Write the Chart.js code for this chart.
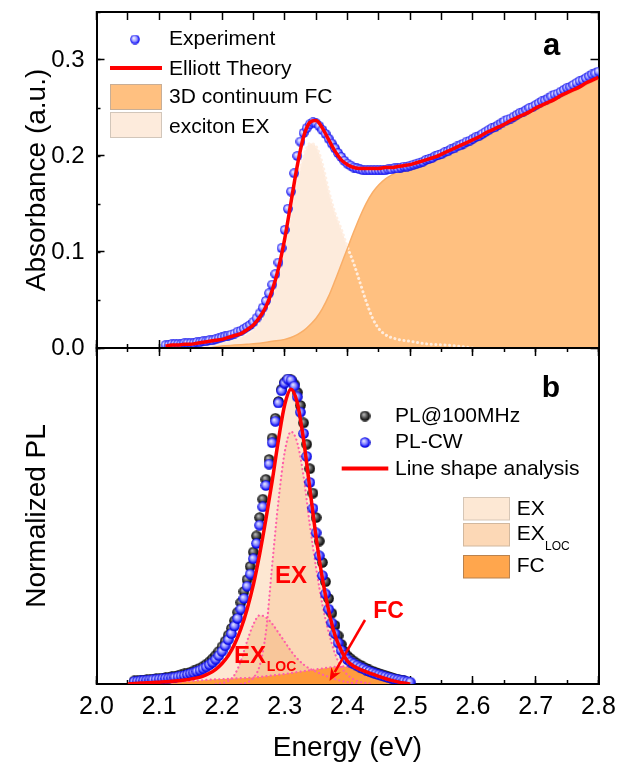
<!DOCTYPE html>
<html><head><meta charset="utf-8">
<script src="https://cdn.jsdelivr.net/npm/chart.js@4.4.1/dist/chart.umd.min.js"></script>
<style>
html,body{margin:0;padding:0;background:#fff;overflow:hidden;width:619px;height:762px;}
#wrap{position:relative;width:619px;height:762px;overflow:hidden;}
canvas{position:absolute;left:0;}
#cA{top:0;} #cB{top:340px;}
</style></head><body>
<div id="wrap"><canvas id="cA" width="619" height="360"></canvas><canvas id="cB" width="619" height="425"></canvas></div>
<script>
// ---------- Panel a: absorbance ----------
const E_abs = [2.110,2.115,2.120,2.125,2.130,2.135,2.140,2.145,2.150,2.155,
2.160,2.165,2.170,2.175,2.180,2.185,2.190,2.195,2.200,2.205,
2.210,2.215,2.220,2.225,2.230,2.235,2.240,2.245,2.250,2.255,
2.260,2.265,2.270,2.275,2.280,2.285,2.290,2.295,2.300,2.305,
2.310,2.315,2.320,2.325,2.330,2.335,2.340,2.345,2.350,2.355,
2.360,2.365,2.370,2.375,2.380,2.385,2.390,2.395,2.400,2.405,
2.410,2.415,2.420,2.425,2.430,2.435,2.440,2.445,2.450,2.455,
2.460,2.465,2.470,2.475,2.480,2.485,2.490,2.495,2.500,2.505,
2.510,2.515,2.520,2.525,2.530,2.535,2.540,2.545,2.550,2.555,
2.560,2.565,2.570,2.575,2.580,2.585,2.590,2.595,2.600,2.605,
2.610,2.615,2.620,2.625,2.630,2.635,2.640,2.645,2.650,2.655,
2.660,2.665,2.670,2.675,2.680,2.685,2.690,2.695,2.700,2.705,
2.710,2.715,2.720,2.725,2.730,2.735,2.740,2.745,2.750,2.755,
2.760,2.765,2.770,2.775,2.780,2.785,2.790,2.795,2.800];
const A_exp = [.003,.003,.004,.004,.004,.004,.005,.005,.005,.005,
.006,.006,.007,.007,.008,.008,.009,.010,.011,.012,
.013,.014,.015,.017,.018,.020,.022,.024,.027,.031,
.036,.042,.049,.057,.066,.077,.089,.104,.123,.145,
.163,.182,.200,.215,.224,.229,.233,.235,.234,.231,
.227,.223,.218,.213,.208,.203,.199,.195,.192,.190,
.188,.187,.186,.185,.185,.185,.185,.185,.185,.185,
.185,.186,.186,.187,.187,.188,.189,.189,.190,.191,
.192,.193,.194,.196,.197,.198,.200,.201,.202,.204,
.205,.207,.208,.210,.211,.213,.215,.216,.218,.220,
.221,.223,.225,.227,.229,.230,.232,.234,.236,.238,
.239,.241,.243,.245,.246,.248,.250,.251,.253,.255,
.257,.258,.260,.262,.264,.265,.267,.269,.271,.272,
.274,.276,.278,.279,.281,.283,.285,.286,.288];

const E_th = [2.11,2.12,2.13,2.14,2.15,2.16,2.17,2.18,2.19,2.20,
2.21,2.22,2.23,2.24,2.25,2.26,2.27,2.28,2.29,2.30,
2.31,2.32,2.33,2.34,2.35,2.36,2.37,2.38,2.39,2.40,
2.41,2.42,2.43,2.44,2.45,2.46,2.47,2.48,2.49,2.50,
2.51,2.52,2.53,2.54,2.55,2.56,2.57,2.58,2.59,2.60,
2.61,2.62,2.63,2.64,2.65,2.66,2.67,2.68,2.69,2.70,
2.71,2.72,2.73,2.74,2.75,2.76,2.77,2.78,2.79,2.80];
const A_th = [.002,.003,.003,.004,.004,.005,.006,.007,.008,.009,
.011,.013,.015,.019,.024,.032,.043,.060,.083,.114,
.152,.190,.220,.235,.237,.229,.217,.205,.196,.191,
.188,.187,.187,.187,.187,.188,.188,.189,.190,.191,
.193,.195,.197,.199,.202,.205,.208,.211,.214,.217,
.220,.224,.227,.230,.233,.237,.240,.243,.246,.250,
.253,.256,.259,.263,.266,.269,.272,.276,.279,.282];

const E_fc = [2.18,2.20,2.22,2.24,2.26,2.28,2.30,2.31,2.32,2.33,2.34,2.35,2.36,2.37,2.38,2.39,2.40,
2.41,2.42,2.43,2.44,2.45,2.46,2.47,2.48,2.49,2.50,2.52,2.54,2.56,2.58,2.60,2.62,2.64,2.66,2.68,2.70,2.72,2.74,2.76,2.78,2.80];
const A_fc = [0.000,0.002,0.003,0.004,0.005,0.007,0.009,0.011,0.014,0.018,0.024,0.031,0.041,0.054,0.070,0.087,0.104,
0.121,0.137,0.151,0.162,0.170,0.176,0.180,0.184,0.186,0.188,0.192,0.197,0.203,0.209,0.215,0.222,0.228,0.235,0.241,0.248,0.254,0.261,0.267,0.274,0.280];

const E_ex = [2.15,2.17,2.19,2.21,2.23,2.25,2.26,2.27,2.28,2.29,2.30,2.31,2.32,2.33,2.34,2.35,2.36,2.37,2.38,2.39,2.40,2.41,2.42,2.43,2.44,2.45,2.46,2.48,2.50,2.53,2.56,2.60];
const A_ex = [0.000,0.002,0.004,0.007,0.011,0.019,0.026,0.037,0.053,0.075,0.104,0.140,0.175,0.200,0.213,0.210,0.192,0.164,0.141,0.124,0.105,0.088,0.068,0.048,0.031,0.020,0.014,0.009,0.007,0.004,0.003,0.000];

const absTicks = ['0.0','0.1','0.2','0.3'];

// ---------- Panel b: photoluminescence ----------
const E_pl = [2.060,2.065,2.070,2.075,2.080,2.085,2.090,2.095,2.100,2.105,
2.110,2.115,2.120,2.125,2.130,2.135,2.140,2.145,2.150,2.155,
2.160,2.165,2.170,2.175,2.180,2.185,2.190,2.195,2.200,2.205,
2.210,2.215,2.220,2.225,2.230,2.235,2.240,2.245,2.250,2.255,
2.260,2.265,2.270,2.275,2.280,2.285,2.290,2.295,2.300,2.305,
2.310,2.315,2.320,2.325,2.330,2.335,2.340,2.345,2.350,2.355,
2.360,2.365,2.370,2.375,2.380,2.385,2.390,2.395,2.400,2.405,
2.410,2.415,2.420,2.425,2.430,2.435,2.440,2.445,2.450,2.455,
2.460,2.465,2.470,2.475,2.480,2.485,2.490];
const PL_100MHz = [.010,.011,.012,.013,.014,.015,.016,.017,.018,.019,
.021,.022,.024,.026,.028,.030,.033,.036,.039,.043,
.047,.052,.058,.065,.073,.083,.094,.107,.122,.140,
.160,.182,.207,.235,.267,.303,.342,.385,.432,.485,
.545,.605,.670,.735,.805,.870,.925,.965,.988,.998,
.996,.982,.955,.912,.855,.785,.705,.625,.545,.468,
.398,.335,.280,.232,.192,.158,.130,.107,.092,.083,
.075,.068,.062,.056,.051,.046,.042,.038,.034,.030,
.027,.024,.021,.018,.016,.013,.011];

const E_cw = [2.060,2.065,2.070,2.075,2.080,2.085,2.090,2.095,2.100,2.105,
2.110,2.115,2.120,2.125,2.130,2.135,2.140,2.145,2.150,2.155,
2.160,2.165,2.170,2.175,2.180,2.185,2.190,2.195,2.200,2.205,
2.210,2.215,2.220,2.225,2.230,2.235,2.240,2.245,2.250,2.255,
2.260,2.265,2.270,2.275,2.280,2.285,2.290,2.295,2.300,2.305,
2.310,2.315,2.320,2.325,2.330,2.335,2.340,2.345,2.350,2.355,
2.360,2.365,2.370,2.375,2.380,2.385,2.390,2.395,2.400,2.405,
2.410,2.415,2.420,2.425,2.430,2.435,2.440,2.445,2.450,2.455,
2.460,2.465,2.470,2.475,2.480,2.485,2.490,2.495,2.500];
const PL_CW = [.008,.009,.010,.011,.012,.013,.014,.015,.016,.017,
.018,.019,.020,.022,.024,.026,.028,.031,.034,.037,
.041,.045,.050,.056,.063,.071,.081,.093,.107,.125,
.145,.165,.190,.215,.245,.280,.320,.360,.410,.460,
.520,.580,.650,.720,.790,.860,.920,.960,.985,.998,
.995,.975,.940,.890,.820,.745,.660,.575,.495,.420,
.355,.295,.245,.200,.165,.135,.110,.094,.080,.072,
.066,.060,.055,.050,.045,.041,.037,.033,.030,.027,
.024,.021,.019,.016,.014,.012,.010,.008,.006];

const E_fit = [2.05,2.06,2.07,2.08,2.09,2.10,2.11,2.12,2.13,2.14,
2.15,2.16,2.17,2.18,2.19,2.20,2.21,2.22,2.23,2.24,
2.25,2.26,2.27,2.28,2.29,2.30,2.31,2.32,2.33,2.34,
2.35,2.36,2.37,2.38,2.39,2.40,2.41,2.42,2.43,2.44,
2.45,2.46,2.47,2.48,2.49,2.50];
const PL_fit = [.000,.002,.003,.004,.005,.006,.007,.009,.011,.013,
.016,.020,.026,.035,.048,.067,.093,.130,.180,.245,
.325,.425,.540,.665,.800,.915,.965,.920,.800,.640,
.480,.345,.240,.160,.110,.075,.058,.048,.040,.032,
.025,.018,.012,.007,.003,.000];

const E_exb = [2.23,2.24,2.25,2.26,2.27,2.28,2.29,2.30,2.31,2.32,2.33,2.34,2.35,2.36,2.37,2.38,2.39,2.40,2.41,2.42,2.44];
const PL_ex = [0.000,0.005,0.020,0.060,0.170,0.390,0.600,0.760,0.826,0.790,0.680,0.520,0.380,0.260,0.170,0.100,0.055,0.030,0.015,0.007,0.000];

const E_loc = [2.19,2.20,2.21,2.22,2.23,2.24,2.25,2.26,2.27,2.28,2.29,2.30,2.31,2.32,2.33,2.34,2.35,2.36,2.38,2.40,2.42];
const PL_loc = [0.000,0.003,0.010,0.030,0.075,0.140,0.195,0.225,0.218,0.197,0.168,0.138,0.108,0.083,0.064,0.050,0.040,0.031,0.016,0.006,0.000];

const E_fcb = [2.10,2.12,2.14,2.16,2.18,2.20,2.22,2.24,2.26,2.28,2.30,2.32,2.34,2.36,2.38,2.39,2.40,2.41,2.42,2.43,2.44,2.45,2.46,2.47,2.48,2.49];
const PL_fc = [0.000,0.004,0.008,0.011,0.014,0.016,0.018,0.020,0.023,0.028,0.033,0.039,0.045,0.051,0.056,0.058,0.056,0.050,0.043,0.036,0.029,0.022,0.015,0.009,0.004,0.000];

const energyTicks = ['2.0','2.1','2.2','2.3','2.4','2.5','2.6','2.7','2.8'];

// ---------- helpers ----------
const FONT = '"Liberation Sans", Arial, Helvetica, sans-serif';
Chart.defaults.font.family = FONT;
Chart.defaults.color = '#000';
const pts = (xs, ys) => xs.map((x, i) => ({x: x, y: ys[i]}));

function makeBall(d, light, mid, dark, edge) {
  const c = document.createElement('canvas');
  c.width = d; c.height = d;
  const g = c.getContext('2d');
  const r = d / 2;
  const grad = g.createRadialGradient(r * 0.75, r * 0.7, r * 0.05, r, r, r);
  grad.addColorStop(0, light);
  grad.addColorStop(0.5, mid);
  grad.addColorStop(0.82, dark);
  grad.addColorStop(1, edge);
  g.fillStyle = grad;
  g.beginPath(); g.arc(r, r, r - 0.2, 0, Math.PI * 2); g.fill();
  return c;
}
const ballA = makeBall(10, '#F2F2FF', '#9A9AFF', '#2424FF', '#0000CC');
const ballBlue = makeBall(11, '#E8E8FF', '#7A7AFF', '#0F0FF2', '#0000B8');
const ballBlack = makeBall(11, '#BDBDBD', '#505050', '#121212', '#000000');

function tickGrid(len, show) {
  return {drawOnChartArea: false, drawTicks: show !== false, tickLength: len, tickWidth: 1.5, tickColor: '#000'};
}
const BORDER = {display: true, width: 2, color: '#000'};
const NOBORDER = {display: false};
function noPad(s) { s.paddingTop = 0; s.paddingBottom = 0; s.paddingLeft = 0; s.paddingRight = 0; }
function sizeH(h) { return s => { s.height = h; noPad(s); }; }
function sizeW(w) { return s => { s.width = w; noPad(s); }; }

function swatch(c, x, y, w, h, fill, stroke) {
  c.fillStyle = fill; c.fillRect(x, y, w, h);
  c.strokeStyle = stroke; c.lineWidth = 1; c.strokeRect(x, y, w, h);
}

// ---------- chart a ----------
const decoA = {
  id: 'decoA',
  afterDraw(chart) {
    const c = chart.ctx;
    c.save();
    c.textAlign = 'left'; c.textBaseline = 'middle';
    c.font = '21px ' + FONT;
    c.drawImage(ballA, 135 - 5, 39.5 - 5);
    c.fillStyle = '#000'; c.fillText('Experiment', 169, 39.5);
    c.strokeStyle = '#FF0000'; c.lineWidth = 4;
    c.beginPath(); c.moveTo(110, 68); c.lineTo(162, 68); c.stroke();
    c.fillStyle = '#000'; c.fillText('Elliott Theory', 169, 69.2);
    swatch(c, 110.5, 84.5, 51, 25, '#FFC080', '#C8AE96');
    c.fillStyle = '#000'; c.fillText('3D continuum FC', 169, 97.5);
    swatch(c, 110.5, 112.5, 51, 25, '#FDEBDC', '#D2C6BA');
    c.fillStyle = '#000'; c.fillText('exciton EX', 169, 127.5);
    c.font = 'bold 31px ' + FONT; c.textBaseline = 'alphabetic';
    c.fillText('a', 543, 55);
    c.restore();
  }
};

new Chart(document.getElementById('cA'), {
  type: 'line',
  data: {
    datasets: [
      {label: 'Elliott Theory', data: pts(E_th, A_th), borderColor: '#FF0000', borderWidth: 3.5,
       pointRadius: 0, cubicInterpolationMode: 'monotone', fill: false},
      {label: 'Experiment', data: pts(E_abs, A_exp), showLine: false, pointStyle: ballA, pointRadius: 5,
       borderColor: '#0000FF', backgroundColor: '#0000FF'},
      {label: '3D continuum FC', data: pts(E_fc, A_fc), borderColor: '#F9AE68', borderWidth: 1.5,
       backgroundColor: '#FFC080', pointRadius: 0, cubicInterpolationMode: 'monotone', fill: 'origin'},
      {label: 'exciton EX', data: pts(E_ex, A_ex), borderColor: 'rgba(255,238,225,0.95)', borderWidth: 3,
       borderDash: [0.1, 4.5], borderCapStyle: 'round', backgroundColor: '#FDEBDC', pointRadius: 0,
       cubicInterpolationMode: 'monotone', fill: 'origin'}
    ]
  },
  options: {
    responsive: false, animation: false, devicePixelRatio: 1,
    layout: {padding: {top: 12, right: 20.5, left: 0, bottom: 0}},
    plugins: {legend: {display: false}, tooltip: {enabled: false}, filler: {drawTime: 'beforeDatasetsDraw'}},
    scales: {
      x: {type: 'linear', position: 'bottom', min: 2.0, max: 2.8, weight: 0,
          ticks: {display: false, stepSize: 0.1}, grid: tickGrid(-8), border: BORDER, afterFit: sizeH(12)},
      xm: {type: 'linear', position: 'bottom', min: 2.0, max: 2.8, weight: -1,
          ticks: {display: false, stepSize: 0.05}, grid: tickGrid(-4), border: NOBORDER, afterFit: sizeH(0)},
      xt: {type: 'linear', position: 'top', min: 2.0, max: 2.8, weight: 0,
          ticks: {display: false, stepSize: 0.05}, grid: tickGrid(-8), border: BORDER, afterFit: sizeH(0)},
      y: {type: 'linear', position: 'left', min: 0, max: 0.35, weight: 0,
          ticks: {stepSize: 0.1, includeBounds: false, padding: 20, color: '#000', font: {size: 24},
                  callback: (v, i) => absTicks[Math.round(v * 10)]},
          grid: tickGrid(-8), border: BORDER,
          title: {display: true, text: 'Absorbance (a.u.)', color: '#000', font: {size: 28}, padding: {top: 20, bottom: 0}},
          afterFit: sizeW(96.5)},
      ym: {type: 'linear', position: 'left', min: 0, max: 0.35, weight: -1,
          ticks: {display: false, stepSize: 0.05}, grid: tickGrid(-4), border: NOBORDER, afterFit: sizeW(0)},
      yr: {type: 'linear', position: 'right', min: 0, max: 0.35, weight: 0,
          ticks: {display: false, stepSize: 0.05}, grid: tickGrid(-8), border: BORDER, afterFit: sizeW(0)}
    }
  },
  plugins: [decoA]
});

// ---------- chart b ----------
const OFF = 340;
const decoB = {
  id: 'decoB',
  afterDraw(chart) {
    const c = chart.ctx;
    c.save();
    c.translate(0, -OFF);
    c.textAlign = 'left'; c.textBaseline = 'middle';
    c.font = '21px ' + FONT;
    c.drawImage(ballBlack, 365 - 5.5, 416 - 5.5);
    c.fillStyle = '#000'; c.fillText('PL@100MHz', 395, 416.7);
    c.drawImage(ballBlue, 365 - 5.5, 442.5 - 5.5);
    c.fillStyle = '#000'; c.fillText('PL-CW', 395, 442.5);
    c.strokeStyle = '#FF0000'; c.lineWidth = 4;
    c.beginPath(); c.moveTo(341.7, 468.5); c.lineTo(388.3, 468.5); c.stroke();
    c.fillStyle = '#000'; c.fillText('Line shape analysis', 395, 468.8);
    swatch(c, 463.5, 497.5, 46, 22.5, '#FDE8D4', '#D6C6B6');
    swatch(c, 463.5, 523.5, 46, 22.5, '#FCD8B6', '#D2B89E');
    swatch(c, 463.5, 555.5, 46, 22.5, '#FFA64D', '#B9824E');
    c.fillStyle = '#000';
    c.fillText('EX', 516.7, 508.8);
    c.fillText('EX', 516.7, 534.2);
    c.font = '12px ' + FONT; c.textBaseline = 'alphabetic';
    c.fillText('LOC', 545, 550);
    c.font = '21px ' + FONT; c.textBaseline = 'middle';
    c.fillText('FC', 516.7, 566.2);
    c.font = 'bold 30px ' + FONT; c.textBaseline = 'alphabetic';
    c.fillText('b', 541.7, 396.7);
    c.fillStyle = '#FF0000';
    c.font = 'bold 24px ' + FONT;
    c.fillText('EX', 275, 583.3);
    c.fillText('EX', 234, 662.7);
    c.font = 'bold 14px ' + FONT;
    c.fillText('LOC', 266.7, 670.5);
    c.font = 'bold 23px ' + FONT;
    c.fillText('FC', 373.3, 618.3);
    const x1 = 365, y1 = 620, x2 = 329.5, y2 = 681;
    const dx = x2 - x1, dy = y2 - y1, L = Math.hypot(dx, dy), ux = dx / L, uy = dy / L;
    const hl = 13, hw = 5.5;
    c.strokeStyle = '#FF0000'; c.lineWidth = 2.5;
    c.beginPath(); c.moveTo(x1, y1); c.lineTo(x2 - ux * hl * 0.8, y2 - uy * hl * 0.8); c.stroke();
    c.beginPath();
    c.moveTo(x2, y2);
    c.lineTo(x2 - ux * hl - uy * hw, y2 - uy * hl + ux * hw);
    c.lineTo(x2 - ux * hl * 0.7, y2 - uy * hl * 0.7);
    c.lineTo(x2 - ux * hl + uy * hw, y2 - uy * hl - ux * hw);
    c.closePath(); c.fill();
    c.restore();
  }
};

const PINK = '#FF5FA8';
new Chart(document.getElementById('cB'), {
  type: 'line',
  data: {
    datasets: [
      {label: 'Line shape analysis', data: pts(E_fit, PL_fit), borderColor: '#FF0000', borderWidth: 3.5,
       pointRadius: 0, cubicInterpolationMode: 'monotone', fill: false},
      {label: 'PL-CW', data: pts(E_cw, PL_CW), showLine: false, pointStyle: ballBlue, pointRadius: 5.5,
       borderColor: '#0000FF', backgroundColor: '#0000FF'},
      {label: 'PL@100MHz', data: pts(E_pl, PL_100MHz), showLine: false, pointStyle: ballBlack, pointRadius: 5.5,
       borderColor: '#000', backgroundColor: '#000'},
      {label: 'FC', data: pts(E_fcb, PL_fc), borderColor: PINK, borderWidth: 2.2, borderDash: [0.1, 4.2],
       borderCapStyle: 'round', backgroundColor: 'rgba(255,150,50,0.92)', pointRadius: 0,
       cubicInterpolationMode: 'monotone', fill: 'origin'},
      {label: 'EX_LOC', data: pts(E_loc, PL_loc), borderColor: PINK, borderWidth: 2.2, borderDash: [0.1, 4.2],
       borderCapStyle: 'round', backgroundColor: 'rgba(243,178,120,0.45)', pointRadius: 0,
       cubicInterpolationMode: 'monotone', fill: 'origin'},
      {label: 'EX', data: pts(E_exb, PL_ex), borderColor: PINK, borderWidth: 2.2, borderDash: [0.1, 4.2],
       borderCapStyle: 'round', backgroundColor: 'rgba(247,188,138,0.38)', pointRadius: 0,
       cubicInterpolationMode: 'monotone', fill: 'origin'},
      {label: 'total', data: pts(E_fit, PL_fit), borderColor: 'rgba(0,0,0,0)', borderWidth: 0,
       backgroundColor: '#FDE7D2', pointRadius: 0, cubicInterpolationMode: 'monotone', fill: 'origin'}
    ]
  },
  options: {
    responsive: false, animation: false, devicePixelRatio: 1,
    layout: {padding: {top: 8, right: 20.5, left: 0, bottom: 0}},
    plugins: {legend: {display: false}, tooltip: {enabled: false}, filler: {drawTime: 'beforeDatasetsDraw'}},
    scales: {
      x: {type: 'linear', position: 'bottom', min: 2.0, max: 2.8, weight: 0,
          ticks: {stepSize: 0.1, padding: 16.2, color: '#000', font: {size: 25}, autoSkip: false, maxRotation: 0,
                  callback: (v) => energyTicks[Math.round((v - 2) * 10)]},
          grid: tickGrid(-8), border: BORDER,
          title: {display: true, text: 'Energy (eV)', color: '#000', font: {size: 28}, padding: {top: 0, bottom: 0}},
          afterFit: sizeH(81)},
      xm: {type: 'linear', position: 'bottom', min: 2.0, max: 2.8, weight: -1,
          ticks: {display: false, stepSize: 0.05}, grid: tickGrid(-4), border: NOBORDER, afterFit: sizeH(0)},
      xt: {type: 'linear', position: 'top', min: 2.0, max: 2.8, weight: 0,
          ticks: {display: false, stepSize: 0.1}, grid: tickGrid(-8), border: BORDER, afterFit: sizeH(0)},
      xtm: {type: 'linear', position: 'top', min: 2.0, max: 2.8, weight: -1,
          ticks: {display: false, stepSize: 0.05}, grid: tickGrid(-4), border: NOBORDER, afterFit: sizeH(0)},
      y: {type: 'linear', position: 'left', min: 0, max: 1.1,
          ticks: {display: false}, grid: tickGrid(0, false), border: BORDER,
          title: {display: true, text: 'Normalized PL', color: '#000', font: {size: 28}, padding: {top: 20, bottom: 0}},
          afterFit: sizeW(96.5)},
      yr: {type: 'linear', position: 'right', min: 0, max: 1.1,
          ticks: {display: false}, grid: tickGrid(0, false), border: BORDER, afterFit: sizeW(0)}
    }
  },
  plugins: [decoB]
});
</script>
</body></html>
